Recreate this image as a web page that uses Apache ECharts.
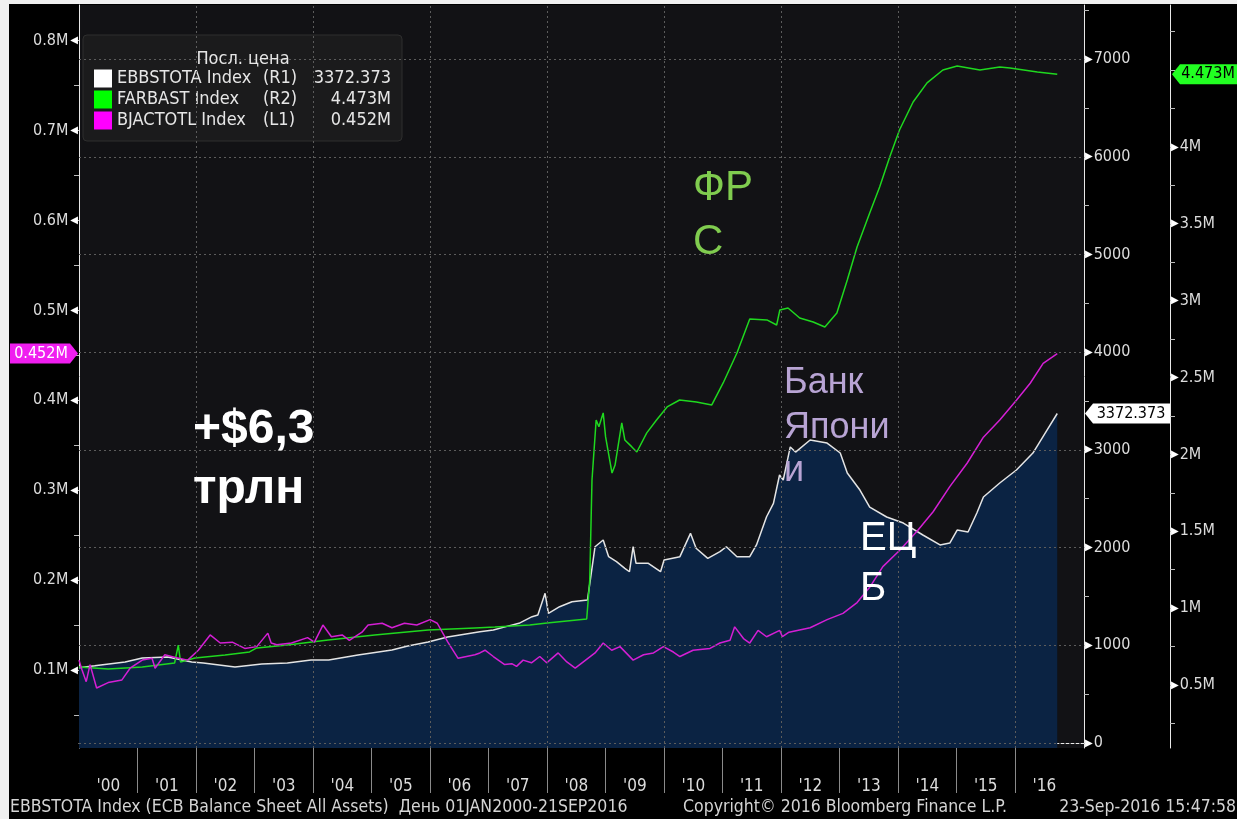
<!DOCTYPE html>
<html>
<head>
<meta charset="utf-8">
<title>ЕЦБ / ФРС / Банк Японии</title>
<script src="https://cdn.jsdelivr.net/npm/echarts@6/dist/echarts.min.js"></script>
<style>
  html, body { margin: 0; padding: 0; background: #f0f0f0; }
  #main { width: 1237px; height: 819px; }
</style>
</head>
<body>
<div id="main"></div>
<script>
// ECB balance sheet, bn EUR (R1)
const ecbSeries = [
  ['2000-01-01', 770], ['2000-04-08', 790], ['2000-10-15', 830], ['2001-01-30', 870],
  ['2001-07-08', 880], ['2001-12-05', 830], ['2002-02-15', 819], ['2002-09-01', 778],
  ['2003-02-15', 809], ['2003-07-25', 820], ['2003-12-20', 850], ['2004-04-08', 850],
  ['2004-10-08', 900], ['2005-05-08', 952], ['2005-08-15', 993], ['2005-12-20', 1034],
  ['2006-04-20', 1085], ['2006-11-08', 1139], ['2007-01-31', 1157], ['2007-04-20', 1191],
  ['2007-07-10', 1225], ['2007-09-30', 1293], ['2007-11-05', 1310], ['2007-12-20', 1532],
  ['2008-01-10', 1327], ['2008-03-20', 1395], ['2008-06-05', 1446], ['2008-09-10', 1464],
  ['2008-10-27', 2009], ['2008-12-17', 2078], ['2009-01-20', 1907], ['2009-03-10', 1856],
  ['2009-05-01', 1788], ['2009-05-30', 1753], ['2009-06-22', 2009], ['2009-07-10', 1839],
  ['2009-09-25', 1839], ['2009-11-10', 1788], ['2009-12-10', 1753], ['2010-01-01', 1873],
  ['2010-04-10', 1907], ['2010-06-15', 2146], ['2010-07-20', 1993], ['2010-10-01', 1890],
  ['2010-12-16', 1958], ['2011-01-25', 2009], ['2011-04-01', 1907], ['2011-06-20', 1907],
  ['2011-08-01', 2027], ['2011-10-03', 2316], ['2011-11-15', 2453], ['2011-12-23', 2743],
  ['2012-01-15', 2692], ['2012-02-28', 3030], ['2012-04-01', 2978], ['2012-07-01', 3101],
  ['2012-10-15', 3070], ['2013-01-05', 2968], ['2013-02-18', 2763], ['2013-05-08', 2589],
  ['2013-07-08', 2415], ['2013-10-22', 2313], ['2014-02-03', 2251], ['2014-06-05', 2129],
  ['2014-09-20', 2027], ['2014-11-20', 2047], ['2015-01-05', 2180], ['2015-03-14', 2160],
  ['2015-05-08', 2354], ['2015-06-18', 2518], ['2015-09-28', 2661], ['2016-01-10', 2794],
  ['2016-04-22', 2968], ['2016-07-20', 3204], ['2016-09-21', 3372.373]
]

// Fed balance sheet, M USD (R2)
const fedSeries = [
  ['2000-01-01', 0.617], ['2000-07-01', 0.604], ['2001-01-30', 0.617], ['2001-08-20', 0.643],
  ['2001-09-12', 0.76], ['2001-09-26', 0.65], ['2001-12-25', 0.676], ['2002-07-01', 0.695],
  ['2002-12-01', 0.715], ['2003-01-15', 0.741], ['2003-07-25', 0.76], ['2004-04-05', 0.793],
  ['2005-01-20', 0.825], ['2005-12-20', 0.858], ['2006-10-08', 0.871], ['2007-02-10', 0.877],
  ['2007-09-15', 0.89], ['2008-01-01', 0.903], ['2008-09-05', 0.929], ['2008-09-24', 1.183],
  ['2008-10-08', 1.834], ['2008-11-03', 2.224], ['2008-11-20', 2.18], ['2008-12-17', 2.27],
  ['2009-01-01', 2.114], ['2009-02-10', 1.879], ['2009-03-01', 1.931], ['2009-04-12', 2.205],
  ['2009-05-01', 2.094], ['2009-06-14', 2.049], ['2009-07-15', 2.016], ['2009-09-15', 2.14],
  ['2009-11-15', 2.224], ['2010-01-20', 2.309], ['2010-04-08', 2.354], ['2010-07-22', 2.341],
  ['2010-10-26', 2.322], ['2011-01-05', 2.465], ['2011-04-01', 2.66], ['2011-06-20', 2.881],
  ['2011-10-05', 2.875], ['2011-12-05', 2.842], ['2011-12-25', 2.94], ['2012-02-14', 2.953],
  ['2012-04-27', 2.888], ['2012-07-20', 2.862], ['2012-10-01', 2.829], ['2012-12-15', 2.92],
  ['2013-02-18', 3.135], ['2013-04-20', 3.35], ['2013-07-08', 3.571], ['2013-09-08', 3.74],
  ['2013-11-10', 3.935], ['2014-01-10', 4.111], ['2014-04-05', 4.293], ['2014-07-01', 4.417],
  ['2014-10-08', 4.501], ['2015-01-05', 4.527], ['2015-05-27', 4.501], ['2015-09-28', 4.521],
  ['2015-12-01', 4.514], ['2016-05-20', 4.488], ['2016-09-21', 4.473]
]

// Bank of Japan total assets (L1)
const bojSeries = [
  ['2000-01-01', 0.111], ['2000-01-20', 0.1], ['2000-02-15', 0.087], ['2000-03-10', 0.106],
  ['2000-04-20', 0.08], ['2000-07-01', 0.086], ['2000-09-25', 0.089], ['2000-11-15', 0.102],
  ['2001-01-30', 0.111], ['2001-04-01', 0.113], ['2001-04-20', 0.102], ['2001-06-20', 0.117],
  ['2001-08-25', 0.114], ['2001-11-10', 0.111], ['2002-01-15', 0.122], ['2002-03-30', 0.139],
  ['2002-06-01', 0.13], ['2002-08-15', 0.131], ['2002-11-01', 0.124], ['2003-01-15', 0.126],
  ['2003-03-25', 0.141], ['2003-04-15', 0.13], ['2003-05-20', 0.128], ['2003-08-20', 0.13],
  ['2003-11-28', 0.136], ['2004-01-10', 0.131], ['2004-03-03', 0.15], ['2004-04-25', 0.137],
  ['2004-07-01', 0.139], ['2004-08-15', 0.133], ['2004-11-02', 0.142], ['2004-12-10', 0.15],
  ['2005-03-08', 0.152], ['2005-05-08', 0.147], ['2005-07-25', 0.152], ['2005-10-10', 0.15],
  ['2006-01-01', 0.156], ['2006-02-15', 0.152], ['2006-04-22', 0.131], ['2006-06-25', 0.113],
  ['2006-10-08', 0.117], ['2006-11-08', 0.119], ['2006-12-10', 0.122], ['2007-01-31', 0.115],
  ['2007-04-12', 0.106], ['2007-05-26', 0.107], ['2007-06-25', 0.104], ['2007-08-05', 0.111],
  ['2007-09-26', 0.108], ['2007-11-17', 0.115], ['2007-12-30', 0.108], ['2008-03-11', 0.119],
  ['2008-05-04', 0.109], ['2008-06-25', 0.102], ['2008-08-15', 0.109], ['2008-10-27', 0.119],
  ['2008-12-17', 0.13], ['2009-02-08', 0.122], ['2009-04-01', 0.126], ['2009-06-22', 0.111],
  ['2009-08-26', 0.117], ['2009-10-27', 0.119], ['2009-12-28', 0.126], ['2010-02-28', 0.12],
  ['2010-04-10', 0.115], ['2010-07-01', 0.122], ['2010-10-15', 0.124], ['2010-12-16', 0.13],
  ['2011-02-17', 0.133], ['2011-03-18', 0.148], ['2011-05-12', 0.135], ['2011-06-20', 0.13],
  ['2011-08-11', 0.144], ['2011-10-03', 0.137], ['2011-12-24', 0.144], ['2012-01-10', 0.137],
  ['2012-02-20', 0.142], ['2012-07-01', 0.147], ['2012-10-15', 0.156], ['2013-01-22', 0.163],
  ['2013-04-20', 0.175], ['2013-07-08', 0.192], ['2013-09-28', 0.215], ['2014-01-10', 0.233],
  ['2014-04-28', 0.254], ['2014-08-08', 0.276], ['2014-11-20', 0.304], ['2015-03-08', 0.33],
  ['2015-06-18', 0.359], ['2015-09-28', 0.378], ['2016-01-10', 0.4], ['2016-04-05', 0.419],
  ['2016-06-25', 0.441], ['2016-09-21', 0.452]
]

const years = [2000, 2001, 2002, 2003, 2004, 2005, 2006, 2007, 2008, 2009, 2010, 2011, 2012, 2013, 2014, 2015, 2016]
const gridYears = [2002, 2004, 2006, 2008, 2010, 2012, 2014, 2016]
const leftLabels = [0.1, 0.2, 0.3, 0.4, 0.5, 0.6, 0.7, 0.8]
const leftTicks = [0.05, 0.1, 0.15, 0.2, 0.25, 0.3, 0.35, 0.4, 0.45, 0.5, 0.55, 0.6, 0.65, 0.7, 0.75, 0.8]
const r1Labels = [0, 1000, 2000, 3000, 4000, 5000, 6000, 7000]
const r1Ticks = [0, 500, 1000, 1500, 2000, 2500, 3000, 3500, 4000, 4500, 5000, 5500, 6000, 6500, 7000, 7500]
const r2Labels = [0.5, 1, 1.5, 2, 2.5, 3, 3.5, 4]
const r2Ticks = [0.25, 0.5, 0.75, 1, 1.25, 1.5, 1.75, 2, 2.25, 2.5, 2.75, 3, 3.25, 3.5, 3.75, 4, 4.25, 4.5, 4.75]

const FONT = "'DejaVu Sans Condensed', 'DejaVu Sans', sans-serif"
const LABEL = '#dcdcdc'

const chart = echarts.init(document.getElementById('main'))

const ts = (y, m, d) => new Date(y, m, d).getTime()
const toTs = (s) => {
  const p = s.split('-').map(Number)
  return ts(p[0], p[1] - 1, p[2])
}
const toPoints = (arr) => arr.map((d) => [toTs(d[0]), d[1]])
const xMin = ts(2000, 0, 1)
const xMax = ts(2017, 2, 7)

const last = (arr) => arr[arr.length - 1][1]
const ecbLast = last(ecbSeries).toFixed(3)
const fedLast = last(fedSeries).toFixed(3) + 'M'
const bojLast = last(bojSeries).toFixed(3) + 'M'

const legendInfo = {
  'EBBSTOTA Index': ['(R1)', ecbLast],
  'FARBAST Index': ['(R2)', fedLast],
  'BJACTOTL Index': ['(L1)', bojLast],
}

const legendText = { fontSize: 18, lineHeight: 21, color: '#e6e6e6', fontFamily: FONT }

const option = {
  backgroundColor: '#000',
  animation: false,
  textStyle: { fontFamily: FONT },
  grid: {
    left: 79, right: 153, top: 5, bottom: 71,
    show: true, backgroundColor: '#121215', borderWidth: 0,
  },
  legend: {
    left: 83, top: 35, orient: 'vertical',
    icon: 'rect', itemWidth: 18, itemHeight: 18, itemGap: 0,
    padding: [33, 11, 10, 11],
    backgroundColor: '#1b1b1c', borderColor: '#2e2e2e', borderWidth: 1, borderRadius: 4,
    selectedMode: false,
    lineStyle: { opacity: 0 },
    data: [
      { name: 'EBBSTOTA Index', itemStyle: { color: '#ffffff' } },
      { name: 'FARBAST Index', itemStyle: { color: '#00ff00' } },
      { name: 'BJACTOTL Index', itemStyle: { color: '#ff00ff' } },
    ],
    formatter: (name) => '{n|' + name + '}{r|' + legendInfo[name][0] + '}{v|' + legendInfo[name][1] + '}',
    textStyle: Object.assign({}, legendText, {
      rich: {
        n: Object.assign({ width: 146 }, legendText),
        r: Object.assign({ width: 50 }, legendText),
        v: Object.assign({ width: 78, align: 'right' }, legendText),
      },
    }),
  },
  xAxis: {
    type: 'value',
    min: xMin,
    max: xMax,
    axisLine: { show: true, lineStyle: { color: '#e8e8e8', width: 1 } },
    axisTick: {
      show: true, length: 50,
      customValues: years.slice(1).map((y) => ts(y, 0, 1)),
      lineStyle: { color: '#8a8a8a' },
    },
    axisLabel: {
      customValues: years.map((y) => (ts(y, 0, 1) + Math.min(ts(y + 1, 0, 1), xMax)) / 2),
      formatter: (v) => "'" + String(new Date(v).getFullYear()).slice(2),
      margin: 30, color: LABEL, fontSize: 17, fontFamily: FONT,
    },
    splitLine: { show: false },
  },
  yAxis: [
    {
      type: 'value', position: 'left', min: 0.01324, max: 0.8397,
      axisLine: { show: true, lineStyle: { color: '#e8e8e8', width: 1 } },
      axisTick: { show: true, customValues: leftTicks, length: 5, lineStyle: { color: '#bbbbbb' } },
      axisLabel: {
        customValues: leftLabels, margin: 1,
        formatter: (v) => '{t|' + v + 'M}{a|◀}',
        rich: {
          t: { color: LABEL, fontSize: 16, fontFamily: FONT, padding: [0, 2, 0, 0] },
          a: { color: '#ffffff', fontSize: 10, fontFamily: 'DejaVu Sans' },
        },
      },
      splitLine: { show: false },
    },
    {
      type: 'value', position: 'right', min: -51.2, max: 7553.7,
      axisLine: { show: true, lineStyle: { color: '#e8e8e8', width: 1 } },
      axisTick: { show: true, customValues: r1Ticks, length: 5, lineStyle: { color: '#bbbbbb' } },
      axisLabel: {
        customValues: r1Labels, margin: 1,
        formatter: (v) => '{a|▶}{t|' + v + '}',
        rich: {
          t: { color: LABEL, fontSize: 16, fontFamily: FONT, padding: [0, 0, 0, 1] },
          a: { color: '#ffffff', fontSize: 10, fontFamily: 'DejaVu Sans' },
        },
      },
      splitLine: { show: false },
    },
    {
      type: 'value', position: 'right', offset: 86, min: 0.0901, max: 4.924,
      axisLine: { show: true, lineStyle: { color: '#e8e8e8', width: 1 } },
      axisTick: { show: true, customValues: r2Ticks, length: 5, lineStyle: { color: '#bbbbbb' } },
      axisLabel: {
        customValues: r2Labels, margin: 1,
        formatter: (v) => '{a|▶}{t|' + v + 'M}',
        rich: {
          t: { color: LABEL, fontSize: 16, fontFamily: FONT, padding: [0, 0, 0, 1] },
          a: { color: '#ffffff', fontSize: 10, fontFamily: 'DejaVu Sans' },
        },
      },
      splitLine: { show: false },
    },
  ],
  series: [
    {
      name: 'EBBSTOTA Index', type: 'line', yAxisIndex: 1,
      data: toPoints(ecbSeries), symbol: 'none',
      lineStyle: { color: '#e4e4e4', width: 1.5 },
      itemStyle: { color: '#ffffff' },
      areaStyle: { color: '#0b2343', opacity: 1, origin: 'start' },
      markLine: {
        silent: true, symbol: ['none', 'none'], label: { show: false },
        lineStyle: { color: '#5c5c5c', type: [2, 3], width: 1 },
        data: r1Labels.map((v) => ({ yAxis: v }))
          .concat(gridYears.map((y) => ({ xAxis: ts(y, 0, 1) }))),
      },
    },
    {
      name: 'FARBAST Index', type: 'line', yAxisIndex: 2,
      data: toPoints(fedSeries), symbol: 'none',
      lineStyle: { color: '#1fd81f', width: 1.5 },
      itemStyle: { color: '#00ff00' },
    },
    {
      name: 'BJACTOTL Index', type: 'line', yAxisIndex: 0,
      data: toPoints(bojSeries), symbol: 'none',
      lineStyle: { color: '#d41fd4', width: 1.5 },
      itemStyle: { color: '#ff00ff' },
    },
  ],
}

chart.setOption(option)

// value tags on the axes, placed from the last values
const yBoj = chart.convertToPixel({ yAxisIndex: 0 }, last(bojSeries))
const yEcb = chart.convertToPixel({ yAxisIndex: 1 }, last(ecbSeries))
const yFed = chart.convertToPixel({ yAxisIndex: 2 }, last(fedSeries))

const txt = (x, y, text, fill, size, extra) => ({
  type: 'text', x: x, y: y, z: 70,
  style: Object.assign({ text: text, fill: fill, fontSize: size, fontFamily: FONT, verticalAlign: 'middle' }, extra || {}),
})
const big = (x, y, text, fill, size, weight) => ({
  type: 'text', x: x, y: y, z: 60,
  style: { text: text, fill: fill, fontSize: size, fontWeight: weight || 'normal', fontFamily: "'Liberation Sans', Arial, sans-serif", verticalAlign: 'middle' },
})

chart.setOption({
  graphic: [
    // light page frame (left and top only)
    { type: 'rect', shape: { x: 0, y: 0, width: 9, height: 819 }, style: { fill: '#f0f0f0' }, z: 40 },
    { type: 'rect', shape: { x: 0, y: 0, width: 1237, height: 4 }, style: { fill: '#f0f0f0' }, z: 40 },
    // legend title
    txt(243, 59, 'Посл. цена', '#e6e6e6', 18, { align: 'center' }),
    // tags
    { type: 'polygon', z: 55, shape: { points: [[10, yBoj - 10], [70, yBoj - 10], [78, yBoj], [70, yBoj + 10], [10, yBoj + 10]] }, style: { fill: '#f01ef0' } },
    txt(41, yBoj, bojLast, '#ffffff', 16, { align: 'center' }),
    { type: 'polygon', z: 55, shape: { points: [[1085, yEcb], [1093, yEcb - 10], [1170, yEcb - 10], [1170, yEcb + 10], [1093, yEcb + 10]] }, style: { fill: '#ffffff' } },
    txt(1131, yEcb, ecbLast, '#000000', 16, { align: 'center' }),
    { type: 'polygon', z: 55, shape: { points: [[1172, yFed], [1180, yFed - 10], [1237, yFed - 10], [1237, yFed + 10], [1180, yFed + 10]] }, style: { fill: '#22ff22' } },
    txt(1208, yFed, fedLast, '#000000', 16, { align: 'center' }),
    // annotations
    big(193, 430, '+$6,3', '#ffffff', 48, 'bold'),
    big(193, 490, 'трлн', '#ffffff', 48, 'bold'),
    big(693, 188, 'ФР', '#80cc4f', 42),
    big(693, 242, 'С', '#80cc4f', 42),
    big(784, 383, 'Банк', '#b8a4d4', 36),
    big(784, 428, 'Япони', '#b8a4d4', 36),
    big(784, 471, 'и', '#b8a4d4', 36),
    big(860, 539, 'ЕЦ', '#ffffff', 40),
    big(860, 589, 'Б', '#ffffff', 40),
    // footer
    txt(10, 807, 'EBBSTOTA Index (ECB Balance Sheet All Assets)  День 01JAN2000-21SEP2016', '#d4d4d4', 17.5),
    txt(683, 807, 'Copyright© 2016 Bloomberg Finance L.P.', '#d4d4d4', 17.5),
    txt(1236, 807, '23-Sep-2016 15:47:58', '#d4d4d4', 17.5, { align: 'right' }),
  ],
})
</script>
</body>
</html>
